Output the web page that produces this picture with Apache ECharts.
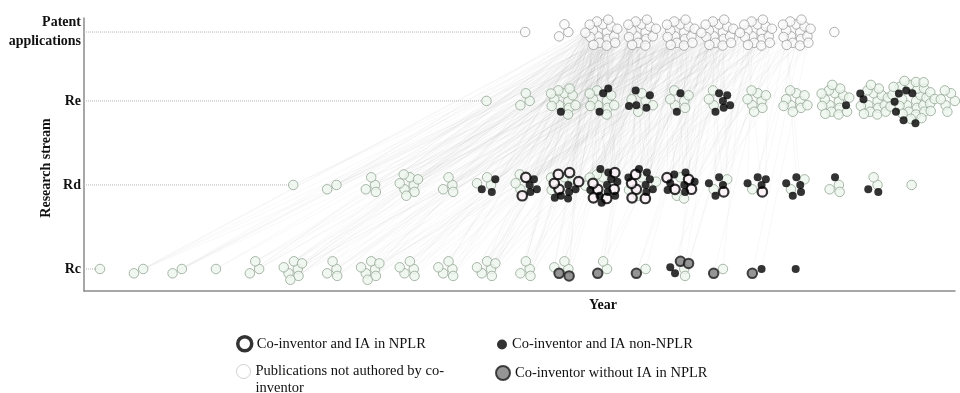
<!DOCTYPE html>
<html><head><meta charset="utf-8">
<script src="https://cdn.jsdelivr.net/npm/echarts@6/dist/echarts.min.js"></script>
<style>html,body{margin:0;padding:0;background:#fff}#c{width:960px;height:393px}</style>
</head><body><div id="c"></div>
<script>
// ---------- DATA ----------
const rowNames = ['Rc', 'Rd', 'Re', 'Patent applications'];
const rowValues = [0, 1, 2, 2.82];

const rcYears = [1994,1995,1996,1997,1998,1999,2000,2001,2002,2003,2004,2005,2006,2007,2008,2009,2010,2011,2012];
const rcNone  = [1,2,2,1,3,7,4,7,5,5,6,4,3,2,1,2,1,0,0];
const rcNplr  = [0,0,0,0,0,0,0,0,0,0,0,0,0,0,0,0,0,0,0];
const rcNon   = [0,0,0,0,0,0,0,0,0,0,0,0,0,0,0,2,0,1,1];
const rcGray  = [0,0,0,0,0,0,0,0,0,0,0,0,2,1,1,2,1,1,0];

const rdYears = [1999,2000,2001,2002,2003,2004,2005,2006,2007,2008,2009,2010,2011,2012,2013,2014,2015];
const rdNone  = [1,2,4,8,4,3,3,4,4,4,3,2,1,2,3,2,1];
const rdNplr  = [0,0,0,0,0,0,2,5,6,5,4,1,1,0,0,0,0];
const rdNon   = [0,0,0,0,0,3,4,6,10,7,7,4,4,5,1,2,0];
const rdGray  = [0,0,0,0,0,0,0,0,0,0,0,0,0,0,0,0,0];

const reYears = [2004,2005,2006,2007,2008,2009,2010,2011,2012,2013,2014,2015,2016];
const reNone  = [1,3,12,10,5,6,3,8,10,16,15,28,8];
const reNplr  = [0,0,0,0,0,0,0,0,0,0,0,0,0];
const reNon   = [0,0,1,3,5,2,6,0,0,1,2,7,0];
const reGray  = [0,0,0,0,0,0,0,0,0,0,0,0,0];

const patYears = [2005,2006,2007,2008,2009,2010,2011,2012,2013];
const patCount = [1,3,18,16,17,18,18,17,1];

// citation links: [source row, source year, patent year, number of links]
const links = [
 [0,1995,2007,3],[0,1995,2009,2],[0,1996,2007,3],[0,1996,2008,3],[0,1997,2008,2],
 [0,1998,2007,4],[0,1998,2009,4],[0,1999,2007,6],[0,1999,2008,6],[0,1999,2010,6],
 [0,2000,2008,5],[0,2000,2010,5],[0,2001,2007,6],[0,2001,2009,6],[0,2001,2011,5],
 [0,2002,2008,6],[0,2002,2010,6],[0,2003,2007,6],[0,2003,2009,6],
 [0,2004,2007,8],[0,2004,2008,6],[0,2004,2010,6],[0,2005,2007,8],[0,2005,2009,6],
 [0,2006,2007,6],[0,2006,2008,4],[0,2007,2008,4],[0,2007,2010,3],[0,2008,2010,3],
 [0,2009,2010,3],[0,2009,2011,3],[0,2010,2011,2],[0,2011,2012,2],
 [1,1999,2007,2],[1,2000,2007,4],[1,2000,2008,3],[1,2001,2007,5],[1,2001,2009,5],
 [1,2002,2007,8],[1,2002,2008,8],[1,2002,2010,6],[1,2003,2008,6],[1,2003,2009,6],
 [1,2004,2007,8],[1,2004,2009,8],[1,2005,2007,10],[1,2005,2008,8],[1,2005,2010,8],
 [1,2006,2007,12],[1,2006,2008,10],[1,2006,2009,8],[1,2006,2011,6],
 [1,2007,2007,12],[1,2007,2008,12],[1,2007,2009,10],[1,2007,2010,10],[1,2007,2011,8],
 [1,2008,2008,10],[1,2008,2009,10],[1,2008,2010,10],[1,2008,2011,8],[1,2008,2012,6],
 [1,2009,2009,8],[1,2009,2010,8],[1,2009,2011,8],[1,2009,2012,6],
 [1,2010,2010,4],[1,2010,2011,4],[1,2010,2012,4],[1,2011,2011,3],[1,2011,2012,3],[1,2012,2012,2],
 [2,2004,2007,2],[2,2005,2007,4],[2,2005,2008,3],[2,2006,2007,8],[2,2006,2008,6],[2,2006,2009,6],
 [2,2007,2007,6],[2,2007,2008,6],[2,2007,2010,6],[2,2008,2008,5],[2,2008,2009,5],[2,2008,2011,4],
 [2,2009,2009,4],[2,2009,2010,4],[2,2009,2012,3],[2,2010,2010,3],[2,2010,2011,3]
];

const legendNames = ['Co-inventor and IA in NPLR','Co-inventor and IA non-NPLR',
  'Publications not authored by co-inventor','Co-inventor without IA in NPLR'];

// ---------- LAYOUT ----------
const GRID = {left:84, right:5, top:18, bottom:102};
const W = 960, H = 393;
const X_MIN = 1993.586, X_MAX = 2016.122;
const Y_MIN = -0.262, Y_MAX = 2.987;
const pxX = (W - GRID.left - GRID.right) / (X_MAX - X_MIN);
const pxY = (H - GRID.top - GRID.bottom) / (Y_MAX - Y_MIN);
const C = 3.6;

function offsets(i, n){
  if(n <= 1) return [0,0];
  const r = C*Math.sqrt(i+0.5) + 2, a = i*2.399963;
  return [r*Math.cos(a), r*Math.sin(a)];
}
function interleave(cnt){
  const n = cnt.reduce((a,b)=>a+b,0), used = cnt.map(()=>0), out=[];
  for(let i=0;i<n;i++){
    let best=-1, bv=-Infinity;
    cnt.forEach((c,t)=>{ if(used[t]<c){ const v=c*(i+1)/n-used[t]; if(v>bv){bv=v;best=t;} } });
    out.push(best); used[best]++;
  }
  return out;
}
const clusters = [{},{},{},{}];
const seriesData = [[],[],[],[],[]]; // none, nplr, non, gray, patent
function buildRow(row, yrs, arrs){
  yrs.forEach((yr,i)=>{
    const cnt = arrs.map(a=>a[i]);
    const types = interleave(cnt);
    const n = types.length;
    clusters[row][yr] = types.map((t,j)=>{
      const o = offsets(j,n);
      const p = [yr + o[0]/pxX, rowValues[row] - o[1]/pxY];
      seriesData[t].push(p);
      return p;
    });
  });
}
buildRow(0, rcYears, [rcNone, rcNplr, rcNon, rcGray]);
buildRow(1, rdYears, [rdNone, rdNplr, rdNon, rdGray]);
buildRow(2, reYears, [reNone, reNplr, reNon, reGray]);
buildRow(3, patYears, [patYears.map(()=>0),patYears.map(()=>0),patYears.map(()=>0),patYears.map(()=>0),patCount]);

const lineData = [];
let g = 0;
links.forEach(([row, sy, ty, count])=>{
  const src = clusters[row][sy], tgt = clusters[3][ty];
  if(!src || !tgt) return;
  for(let j=0;j<count;j++){
    lineData.push({coords:[src[g % src.length], tgt[(g*7+3) % tgt.length]]});
    g++;
  }
});

const firstYears = [rcYears[0], rdYears[0], reYears[0], patYears[0]];
const dotted = firstYears.map((fy,r)=>({
  type:'line', silent:true, symbol:'none', z:1, animation:false,
  data:[[X_MIN,rowValues[r]],[fy,rowValues[r]]],
  lineStyle:{type:'dotted', color:'#b5b5b5', width:1}
}));

const serif = 'Liberation Serif';
const lt = {fontFamily:serif, fontSize:14.5, color:'#111'};
const styles = [
  {symbolSize:9.5, itemStyle:{color:'#eef6ee', borderColor:'#93a593', borderWidth:1}},
  {symbolSize:9.5, itemStyle:{color:'#fbf0f6', borderColor:'#000', borderWidth:2.2}},
  {symbolSize:8, itemStyle:{color:'#000', borderWidth:0}},
  {symbolSize:9.5, itemStyle:{color:'#7a7a7a', borderColor:'#1a1a1a', borderWidth:2}},
  {symbolSize:9.5, itemStyle:{color:'#fafafa', borderColor:'#9c9c9c', borderWidth:1}}
];
const names = [legendNames[2], legendNames[0], legendNames[1], legendNames[3], 'Patent applications'];
const scatters = seriesData.map((d,t)=>({
  type:'scatter', name:names[t], data:d, z:5+t, animation:false,
  symbolSize:styles[t].symbolSize, itemStyle:styles[t].itemStyle
}));

const chart = echarts.init(document.getElementById('c'), null, {renderer:'canvas'});
chart.setOption({
  animation:false,
  backgroundColor:'#fff',
  grid:{left:GRID.left, right:GRID.right, top:GRID.top, bottom:GRID.bottom},
  xAxis:{type:'value', min:X_MIN, max:X_MAX, axisLabel:{show:false}, axisTick:{show:false},
    splitLine:{show:false}, axisLine:{onZero:false, lineStyle:{color:'#8a8a8a', width:1.5}}},
  yAxis:{type:'value', min:Y_MIN, max:Y_MAX, splitLine:{show:false}, axisTick:{show:false},
    axisLine:{show:true, onZero:false, lineStyle:{color:'#8a8a8a', width:1.5}},
    axisLabel:{customValues:rowValues, margin:3, fontFamily:serif, fontWeight:'bold', fontSize:14, color:'#111', lineHeight:19,
      formatter:(v)=>{ let k=0; rowValues.forEach((rv,i)=>{ if(Math.abs(rv-v)<Math.abs(rowValues[k]-v)) k=i; });
        return k===3 ? 'Patent\napplications' : rowNames[k]; }}},
  legend:[
    {data:[legendNames[0]], left:236, top:335, padding:0, itemWidth:14, itemHeight:14, icon:'circle', selectedMode:false,
      itemStyle:{color:'#fff', borderColor:'#000', borderWidth:3.5}, textStyle:lt},
    {data:[legendNames[2]], left:236, top:346, padding:0, itemWidth:14, itemHeight:14, icon:'circle', selectedMode:false,
      itemStyle:{color:'#fff', borderColor:'#c4c4c4', borderWidth:1},
      formatter:(n)=>' \nPublications not authored by co-\ninventor',
      textStyle:Object.assign({}, lt, {lineHeight:17})},
    {data:[legendNames[1]], left:497, top:337, padding:0, itemWidth:10, itemHeight:10, icon:'circle', selectedMode:false,
      itemStyle:{color:'#000', borderWidth:0}, textStyle:lt},
    {data:[legendNames[3]], left:495, top:365, padding:0, itemWidth:14, itemHeight:14, icon:'circle', selectedMode:false,
      itemStyle:{color:'#7a7a7a', borderColor:'#1a1a1a', borderWidth:2}, textStyle:lt}
  ],
  graphic:[
    {type:'text', x:46, y:168, rotation:Math.PI/2, style:{text:'Research stream', fontFamily:serif, fontWeight:'bold', fontSize:14, fill:'#111', align:'center', verticalAlign:'middle'}},
    {type:'text', x:603, y:305, style:{text:'Year', fontFamily:serif, fontWeight:'bold', fontSize:14, fill:'#111', align:'center', verticalAlign:'middle'}}
  ],
  series:[
    {type:'lines', coordinateSystem:'cartesian2d', silent:true, z:2, animation:false, data:lineData,
      lineStyle:{color:'#8c8c8c', opacity:0.08, width:0.8}},
    ...dotted,
    ...scatters
  ]
});
</script></body></html>
